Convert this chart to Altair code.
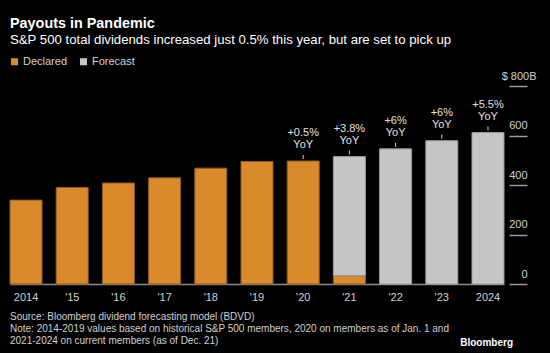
import altair as alt
import pandas as pd

years = ["2014", "'15", "'16", "'17", "'18", "'19", "'20", "'21", "'22", "'23", "2024"]
declared = [339, 390, 408, 429, 468, 495, 497, 33, 0, 0, 0]
forecast = [0, 0, 0, 0, 0, 0, 0, 482, 546, 579, 612]
yoy_years = ["'20", "'21", "'22", "'23", "2024"]
yoy_pct = ["+0.5%", "+3.8%", "+6%", "+6%", "+5.5%"]
y_ticks = [0, 200, 400, 600, 800]

title = "Payouts in Pandemic"
subtitle = "S&P 500 total dividends increased just 0.5% this year, but are set to pick up"
notes = [
    "Source: Bloomberg dividend forecasting model (BDVD)",
    "Note: 2014-2019 values based on historical S&P 500 members, 2020 on members as of Jan. 1 and",
    "2021-2024 on current members (as of Dec. 21)",
]

FONT = "Liberation Sans"
ORANGE = "#D98B2C"
GREY = "#C6C6C6"

rows = []
for y, d, f in zip(years, declared, forecast):
    if d > 0:
        rows.append({"year": y, "type": "Declared", "ord": 0, "value": d})
    if f > 0:
        rows.append({"year": y, "type": "Forecast", "ord": 1, "value": f})
df = pd.DataFrame(rows)

totals = {y: d + f for y, d, f in zip(years, declared, forecast)}
yoy_df = pd.DataFrame({"year": yoy_years, "pct": yoy_pct, "yoy": ["YoY"] * len(yoy_years),
                       "total": [totals[y] for y in yoy_years]})

W, H = 499, 198

xscale = alt.Scale(domain=years, range=[0, 494], paddingInner=0.307, paddingOuter=0)
yscale = alt.Scale(domain=[0, 800], nice=False)

x_enc = alt.X("year:N", scale=xscale, sort=years, title=None,
              axis=alt.Axis(labelAngle=0, ticks=False, domainColor="#8a8a8a", domainWidth=1.5,
                            labelColor="#d0d0d0", labelFontSize=11, labelPadding=7, labelFont=FONT))

bars = alt.Chart(df).mark_bar(strokeWidth=1).encode(
    x=x_enc,
    y=alt.Y("value:Q", scale=yscale, stack="zero", title=None,
            axis=alt.Axis(orient="right", values=y_ticks, grid=False, domain=False,
                          tickSize=18, tickColor="#9a9a9a", tickWidth=1.5,
                          labelAlign="right", labelBaseline="alphabetic",
                          labelPadding={"condition": {"test": "datum.value == 800", "value": 9}, "value": 0},
                          labelOffset=-7,
                          labelExpr="datum.value == 800 ? '$ 800B' : datum.label",
                          labelColor="#d0d0d0", labelFontSize=11, labelFont=FONT)),
    color=alt.Color("type:N", scale=alt.Scale(domain=["Declared", "Forecast"], range=[ORANGE, GREY]),
                    legend=alt.Legend(orient="none", legendX=-1, legendY=-30, direction="horizontal",
                                      title=None, symbolType="square", symbolSize=50,
                                      symbolStrokeWidth=0, labelColor="#d0d0d0", labelFontSize=11,
                                      labelFont=FONT, columnPadding=10, labelOffset=3)),
    stroke=alt.Stroke("type:N", scale=alt.Scale(domain=["Declared", "Forecast"], range=["#8f5a1c", "#9a9a9a"]),
                      legend=None),
    order=alt.Order("ord:Q", sort="ascending"),
)

ticks = alt.Chart(yoy_df).mark_rule(color="#d0d0d0", strokeWidth=1, yOffset=-2, y2Offset=-6).encode(
    x=alt.X("year:N", scale=xscale, sort=years),
    y=alt.Y("total:Q", scale=yscale),
    y2=alt.Y2("total"),
)

def yoy_line(field, dy):
    return alt.Chart(yoy_df).mark_text(color="#e0e0e0", fontSize=11, font=FONT, baseline="alphabetic",
                                       dy=dy).encode(
        x=alt.X("year:N", scale=xscale, sort=years),
        y=alt.Y("total:Q", scale=yscale),
        text=f"{field}:N",
    )

def txt(s, x, y, size, color="#d0d0d0", weight="normal", align="left"):
    return alt.Chart(pd.DataFrame({"t": [s]})).mark_text(
        align=align, baseline="alphabetic", fontSize=size, font=FONT, fontWeight=weight, color=color
    ).encode(text="t:N", x=alt.value(x), y=alt.value(y))

layers = [bars, ticks, yoy_line("pct", -25), yoy_line("yoy", -13),
          txt(title, 0, -58, 14.4, "white", "bold"),
          txt(subtitle, 0, -42, 13.2, "white")]
for i, n in enumerate(notes):
    layers.append(txt(n, 0, 234 + 12 * i, 10))
layers.append(txt("Bloomberg", 503, 260, 10, "white", "bold", "right"))

chart = alt.layer(*layers).properties(
    width=W, height=H,
    autosize=alt.AutoSizeParams(type="none"),
    padding={"left": 10, "top": 86, "right": 41, "bottom": 69},
    background="black",
).configure_view(stroke=None)

chart.save("out.html", embed_options={"renderer": "svg", "actions": False})
